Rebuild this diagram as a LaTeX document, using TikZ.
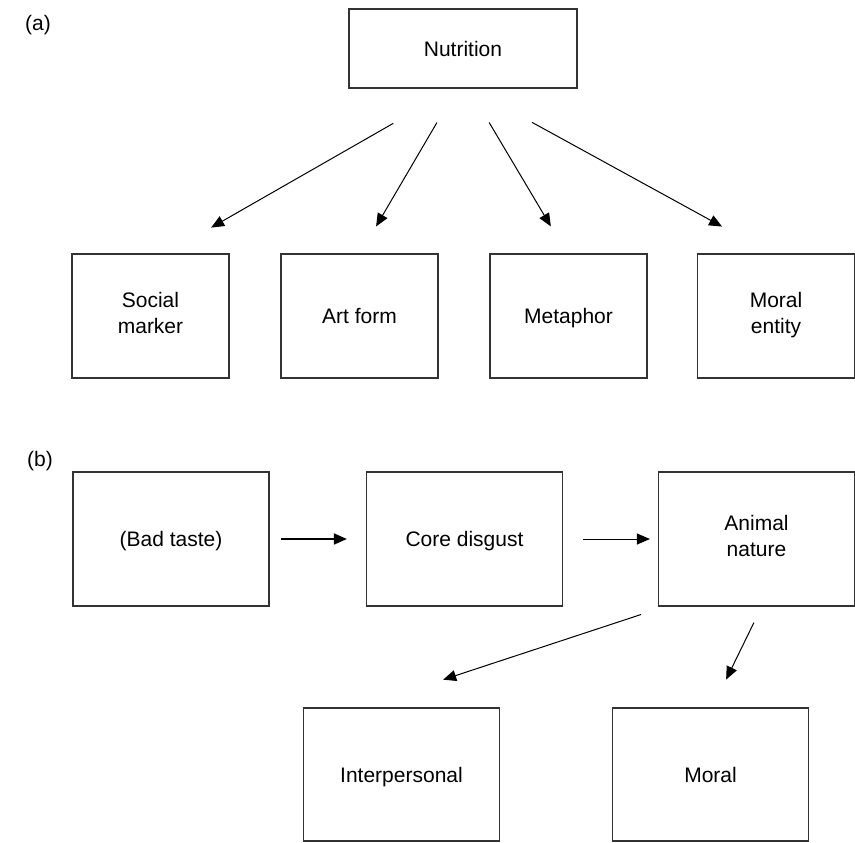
\documentclass[tikz,border=0pt]{standalone}
\usepackage{fontspec}
\setmainfont{Liberation Sans}
\usepackage{tikz}
\usetikzlibrary{arrows.meta, calc}
\newcommand{\boxstrut}{\rule[-3pt]{0pt}{13.5pt}}
\tikzstyle{arrow} = [line width=0.5pt, ->, >={Triangle[length=6.5pt,width=5.5pt]}]
\tikzstyle{box} = [draw=black!80, line width=0.6pt, align=center, inner sep=0pt, font=\fontsize{10.5}{13}\selectfont, execute at begin node=\boxstrut, execute at end node=\boxstrut]
\tikzstyle{boxa} = [box, minimum width=78.5pt, minimum height=62pt]
\tikzstyle{boxb} = [box, minimum width=98pt, minimum height=67pt]
\tikzstyle{panel} = [inner sep=0pt, font=\fontsize{10.5}{13}\selectfont]

\begin{document}
\begin{tikzpicture}[x=0.5pt, y=-0.5pt]
            \useasboundingbox (0,0) rectangle (855,842);

            % (a)
            \node[panel] at (38,25) (labela) {(a)};
            \node[box, minimum width=114pt, minimum height=39.5pt] at (463,48.5) (nutrition) {Nutrition};
            \node[boxa] at (150.5,316) (social) {Social\\marker};
            \node[boxa] at (359.5,316) (artform) {Art form};
            \node[boxa] at (568.5,316) (metaphor) {Metaphor};
            \node[boxa] at (776,316) (moralentity) {Moral\\entity};

            \draw[arrow, shorten <=35pt, shorten >=26pt] ([xshift=-4.5pt]nutrition.south) -- ([xshift=7.75pt]social.north);
            \draw[arrow, shorten <=19.7pt, shorten >=15.6pt] ([xshift=-3.1pt]nutrition.south) -- ([xshift=0.4pt]artform.north);
            \draw[arrow, shorten <=19.7pt, shorten >=15.7pt] ([xshift=3pt]nutrition.south) -- ([xshift=-0.8pt]metaphor.north);
            \draw[arrow, shorten <=35.1pt, shorten >=27.9pt] ([xshift=3.75pt]nutrition.south) -- ([xshift=-2.5pt]moralentity.north);

            % (b)
            \node[panel] at (40,461) (labelb) {(b)};
            \node[boxb] at (171,539) (badtaste) {(Bad taste)};
            \node[boxb] at (464.5,539) (coredisgust) {Core disgust};
            \node[boxb] at (756.5,539) (animal) {Animal\\nature};
            \node[boxb, minimum height=66.5pt] at (401.5,774.5) (interpersonal) {Interpersonal};
            \node[boxb, minimum height=66.5pt] at (710.5,774.5) (moral) {Moral};

            \draw[arrow, line width=0.8pt, shorten <=5.5pt, shorten >=9.5pt] (badtaste.east) -- (coredisgust.west);
            \draw[arrow, shorten <=10pt, shorten >=4pt] (coredisgust.east) -- (animal.west);
            \draw[arrow, shorten <=12.6pt, shorten >=44.3pt] ([xshift=-45.75pt]animal.south) -- ([xshift=-21.25pt]interpersonal.north);
            \draw[arrow, shorten <=8.9pt, shorten >=15.5pt] ([xshift=2.6pt]animal.south) -- ([xshift=1pt]moral.north);
\end{tikzpicture}
\end{document}
